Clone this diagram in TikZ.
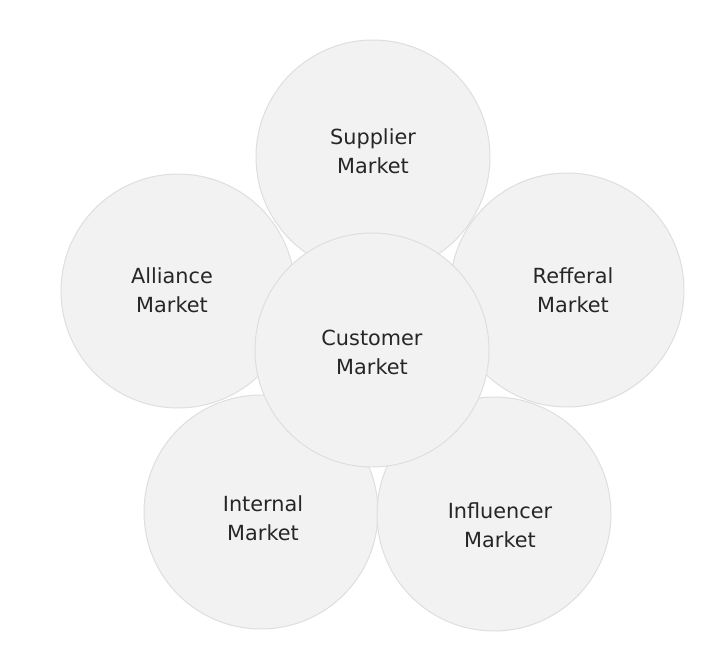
\documentclass[tikz,border=0pt]{standalone}
\usepackage{fontspec}
\setmainfont{DejaVu Sans}
\definecolor{ringfill}{HTML}{F2F2F2}
\definecolor{ringline}{HTML}{DEDEDE}
\definecolor{ringtext}{HTML}{262626}
\tikzset{
  market/.style={circle,draw=ringline,fill=ringfill,line width=.7pt,
    minimum size=5.85cm,inner sep=0pt},
  marketname/.style={align=center,text=ringtext,inner sep=0pt,
    font=\fontsize{14.8}{20.6}\selectfont}
}
\begin{document}
\begin{tikzpicture}
  \useasboundingbox (0,0) rectangle (18.15,16.7);
  % outer markets
  \node[market] (supplier) at (9.325,12.775) {};
  \node[marketname] (supplier-t) at ([shift={(0,.15)}]supplier.center) {Supplier\\Market};
  \node[market] (alliance) at (4.45,9.425) {};
  \node[marketname] (alliance-t) at ([shift={(-.15,.025)}]alliance.center) {Alliance\\Market};
  \node[market] (refferal) at (14.175,9.45) {};
  \node[marketname] (refferal-t) at ([shift={(.15,0)}]refferal.center) {Refferal\\Market};
  \node[market] (internal) at (6.525,3.9) {};
  \node[marketname] (internal-t) at ([shift={(.05,-.15)}]internal.center) {Internal\\Market};
  \node[market] (influencer) at (12.35,3.85) {};
  \node[marketname] (influencer-t) at ([shift={(.15,-.275)}]influencer.center) {Influencer\\Market};
  % centre on top
  \node[market] (customer) at (9.3,7.95) {};
  \node[marketname] (customer-t) at ([shift={(0,-.06)}]customer.center) {Customer\\Market};
\end{tikzpicture}
\end{document}
